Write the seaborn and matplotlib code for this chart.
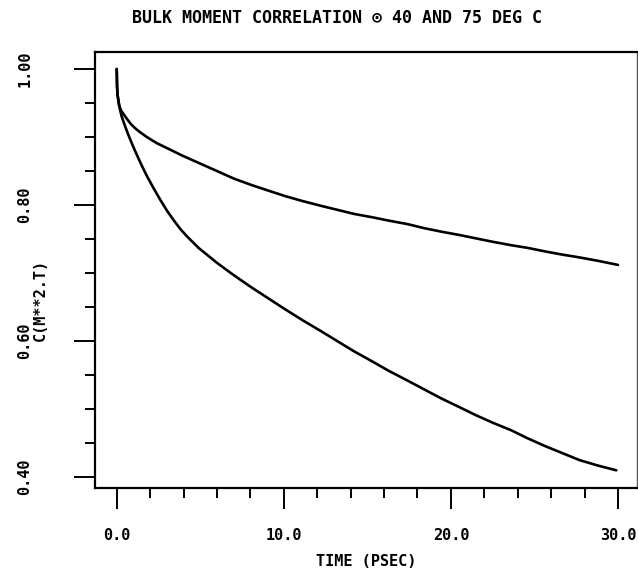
import numpy as np
import pandas as pd
import matplotlib
matplotlib.use("Agg")
import matplotlib.pyplot as plt
import seaborn as sns
from matplotlib.ticker import MultipleLocator, FixedLocator, FixedFormatter

# ---- data ----
time_40 = [0.0, 0.02, 0.05, 0.15, 0.26, 0.40, 0.60, 0.85, 1.1, 1.4, 1.8, 2.4,
           2.9, 3.9, 4.9, 6.0, 7.0, 8.0, 9.1, 10.1, 11.1, 12.2, 13.2, 14.2,
           15.3, 16.3, 17.4, 18.4, 19.4, 20.5, 21.5, 22.5, 23.6, 24.6, 25.6,
           26.7, 27.7, 28.8, 30.0]
corr_40 = [1.0, 0.975, 0.962, 0.946, 0.939, 0.934, 0.927, 0.919, 0.913, 0.907,
           0.900, 0.891, 0.885, 0.873, 0.862, 0.850, 0.839, 0.830, 0.821,
           0.813, 0.806, 0.799, 0.793, 0.787, 0.782, 0.777, 0.772, 0.766,
           0.761, 0.756, 0.751, 0.746, 0.741, 0.737, 0.732, 0.727, 0.723,
           0.718, 0.712]

time_75 = [0.0, 0.02, 0.05, 0.12, 0.20, 0.30, 0.50, 0.70, 0.95, 1.2, 1.5, 1.8,
           2.2, 2.6, 3.0, 3.4, 3.8, 4.2, 4.9, 6.0, 7.0, 8.0, 9.0, 10.0, 11.1,
           12.2, 13.2, 14.2, 15.3, 16.3, 17.4, 18.4, 19.4, 20.5, 21.5, 22.5,
           23.6, 24.6, 25.6, 26.7, 27.7, 28.8, 29.9]
corr_75 = [1.0, 0.975, 0.962, 0.950, 0.940, 0.930, 0.916, 0.903, 0.888, 0.874,
           0.858, 0.843, 0.825, 0.808, 0.792, 0.778, 0.765, 0.754, 0.737,
           0.715, 0.697, 0.680, 0.664, 0.648, 0.631, 0.615, 0.600, 0.585,
           0.570, 0.556, 0.542, 0.529, 0.516, 0.503, 0.491, 0.480, 0.469,
           0.457, 0.446, 0.435, 0.425, 0.417, 0.410]

x_ticks = [0.0, 10.0, 20.0, 30.0]
x_tick_labels = ["0.0", "10.0", "20.0", "30.0"]
y_ticks = [0.40, 0.60, 0.80, 1.00]
y_tick_labels = ["0.40", "0.60", "0.80", "1.00"]

title = "BULK MOMENT CORRELATION \u2299 40 AND 75 DEG C"
xlabel = "TIME (PSEC)"
ylabel = "C(M**2.T)"

df = pd.concat([
    pd.DataFrame({"t": time_40, "c": corr_40, "temp": "40"}),
    pd.DataFrame({"t": time_75, "c": corr_75, "temp": "75"}),
])

sns.set_style("white")
plt.rcParams["font.family"] = ["DejaVu Sans Mono", "DejaVu Sans"]
plt.rcParams["text.color"] = "black"
plt.rcParams["xtick.color"] = "black"
plt.rcParams["ytick.color"] = "black"

fig = plt.figure(figsize=(6.38, 5.71), dpi=100)
ax = fig.add_axes([95 / 638, 1 - 488 / 571, (637 - 95) / 638, (488 - 52) / 571])

sns.lineplot(data=df, x="t", y="c", units="temp", estimator=None,
             color="black", linewidth=1.9, ax=ax, legend=False, sort=False)

ax.set_xlim(-1.30, 31.14)
ax.set_ylim(0.384, 1.025)

ax.xaxis.set_major_locator(FixedLocator(x_ticks))
ax.xaxis.set_major_formatter(FixedFormatter(x_tick_labels))
ax.xaxis.set_minor_locator(MultipleLocator(2.0))
ax.yaxis.set_major_locator(FixedLocator(y_ticks))
ax.yaxis.set_major_formatter(FixedFormatter(y_tick_labels))
ax.yaxis.set_minor_locator(MultipleLocator(0.05))

ax.tick_params(axis="both", which="major", direction="out", length=15,
               width=1.4, color="black", labelsize=11, labelcolor="black")
ax.tick_params(axis="both", which="minor", direction="out", length=7.5,
               width=1.4, color="black")
ax.tick_params(axis="x", which="major", pad=14, bottom=True)
ax.tick_params(axis="x", which="minor", bottom=True)
ax.tick_params(axis="y", which="major", pad=30, left=True)
ax.tick_params(axis="y", which="minor", left=True)
for lab in ax.get_yticklabels():
    lab.set_rotation(90)
    lab.set_va("center")
    lab.set_fontweight("bold")
for lab in ax.get_xticklabels():
    lab.set_fontweight("bold")

for side in ["left", "bottom", "top"]:
    ax.spines[side].set_linewidth(1.6)
    ax.spines[side].set_color("black")
ax.spines["right"].set_linewidth(1.0)
ax.spines["right"].set_color("#555555")

ax.set_xlabel("")
ax.set_ylabel("")
fig.text(337 / 638, 1 - 18 / 571, title, ha="center", va="center",
         fontsize=12, fontweight="bold")
fig.text(366 / 638, 1 - 562 / 571, xlabel, ha="center", va="center",
         fontsize=11, fontweight="bold")
fig.text(40 / 638, 1 - 300 / 571, ylabel, ha="center", va="center",
         fontsize=11, fontweight="bold", rotation=90)

fig.savefig("out.png", dpi=100)
